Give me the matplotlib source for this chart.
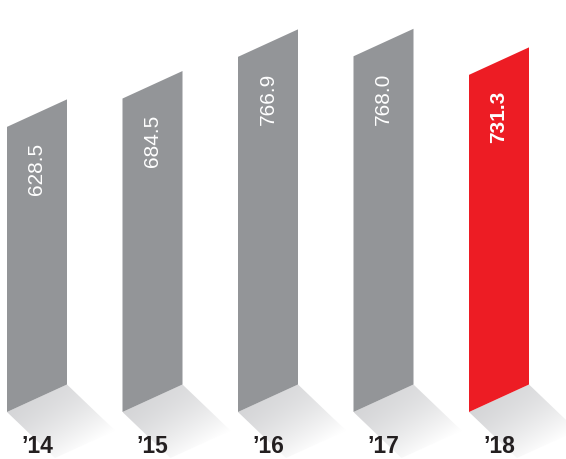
import numpy as np
import matplotlib.pyplot as plt
from matplotlib.patches import Polygon

years = ["\u201914", "\u201915", "\u201916", "\u201917", "\u201918"]
values = [628.5, 684.5, 766.9, 768.0, 731.3]
highlight = [False, False, False, False, True]

GRAY = '#939598'
RED = '#ed1c24'
SHADOW = np.array([0.835, 0.837, 0.845])

# canvas layout (pixels)
W, H = 566, 459
FOOT_ROW = 412        # pixel row of the bars' left foot
LABEL_ROW = 453       # baseline of the year labels
PX_PER_UNIT = 0.506   # vertical pixels per value unit
BASE = 65.0           # value at the bar foot
STEP = 115.5          # pixels between bar centres
FIRST_CENTER = 37

fig = plt.figure(figsize=(W / 100, H / 100), dpi=100)
ax = fig.add_axes([0, 0, 1, 1])
ax.axis('off')

xlim = (-FIRST_CENTER / STEP, (W - FIRST_CENTER) / STEP)
ylim = (BASE - (H - FOOT_ROW) / PX_PER_UNIT, BASE + FOOT_ROW / PX_PER_UNIT)

bar_w = 60 / STEP
skew = 27.5 / PX_PER_UNIT          # rise of the slanted top/bottom edges
sh_dx = 48 / STEP                  # floor shadow reach
sh_dy = 46 / PX_PER_UNIT
label_off = 30 / PX_PER_UNIT

for i, (v, hl) in enumerate(zip(values, highlight)):
    x0, x1 = i - bar_w / 2, i + bar_w / 2

    # floor shadow: parallelogram hanging off the bar foot, fading to white
    corners = [(x0, BASE), (x1, BASE + skew),
               (x1 + sh_dx, BASE + skew - sh_dy), (x0 + sh_dx, BASE - sh_dy)]
    clip = Polygon(corners, closed=True, transform=ax.transData)
    gx = np.linspace(x0, x1 + sh_dx, 160)
    gy = np.linspace(BASE - sh_dy, BASE + skew, 160)
    X, Y = np.meshgrid(gx, gy)
    M = np.array([[bar_w, sh_dx], [skew, -sh_dy]])
    inv = np.linalg.inv(M)
    s = inv[0, 0] * (X - x0) + inv[0, 1] * (Y - BASE)
    t = inv[1, 0] * (X - x0) + inv[1, 1] * (Y - BASE)
    fade = np.clip(t, 0, 1) ** 1.4 * 0.85 + np.clip(s, 0, 1) * 0.15
    fade = np.clip(fade, 0, 1)[..., None]
    img = SHADOW * (1 - fade) + 1.0 * fade
    im = ax.imshow(img, extent=[gx[0], gx[-1], gy[0], gy[-1]], origin='lower',
                   aspect='auto', interpolation='bilinear', zorder=1)
    im.set_clip_path(clip)

    bar = Polygon([(x0, BASE), (x1, BASE + skew), (x1, v + skew), (x0, v)],
                  closed=True, facecolor=RED if hl else GRAY, lw=0, zorder=2)
    ax.add_patch(bar)

    ax.text(i, v + skew / 2 - label_off, f'{v:.1f}', rotation=90,
            ha='center', va='top', color='white', fontsize=15,
            fontweight='bold' if hl else 'normal', family='Liberation Sans',
            zorder=3)

    ax.text(i, BASE - (LABEL_ROW - FOOT_ROW) / PX_PER_UNIT, years[i],
            ha='center', va='baseline', fontsize=16.5, fontweight='bold',
            color='#231f20', family='Liberation Sans', zorder=3)

ax.set_xlim(*xlim)
ax.set_ylim(*ylim)

fig.savefig('out.png', dpi=100)
